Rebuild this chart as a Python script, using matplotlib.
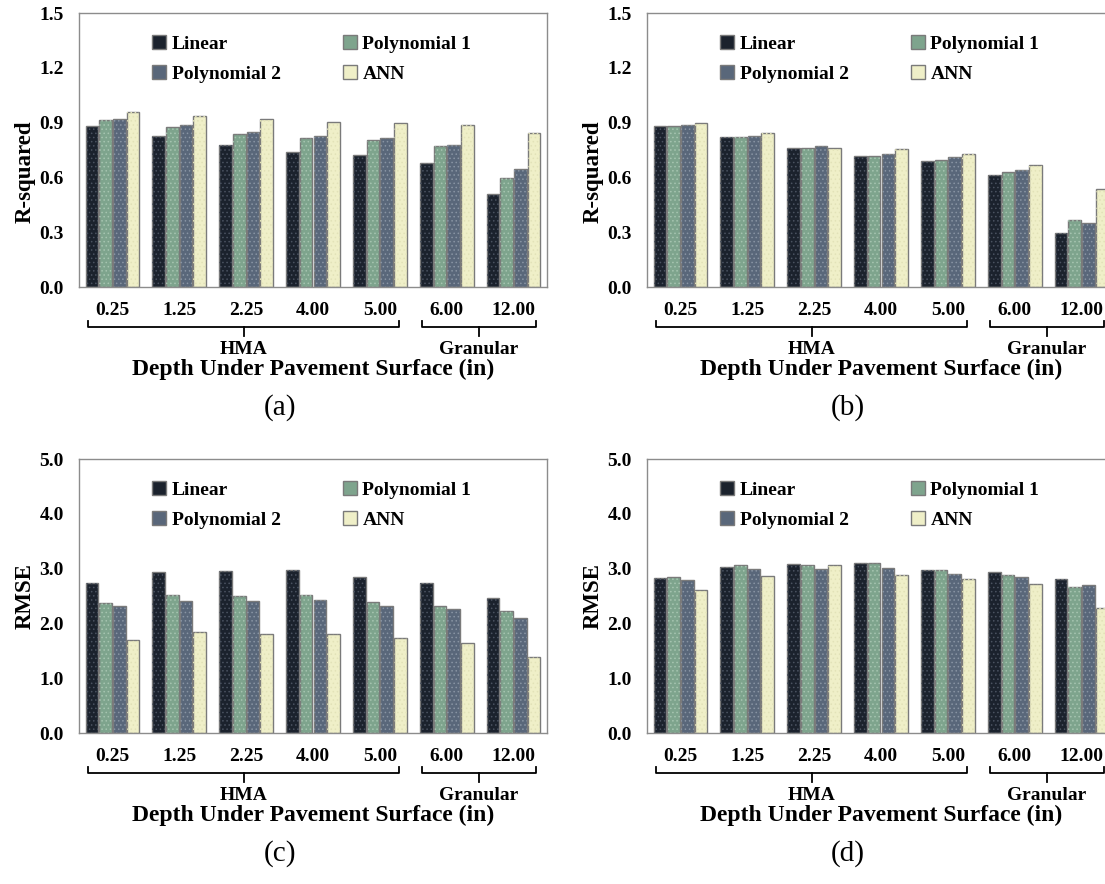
import numpy as np
import matplotlib
matplotlib.use("Agg")
import matplotlib.pyplot as plt
from matplotlib.patches import Patch
from matplotlib import transforms

plt.rcParams["font.family"] = ["Liberation Serif", "DejaVu Serif"]
plt.rcParams["hatch.linewidth"] = 0.6

depths = ["0.25", "1.25", "2.25", "4.00", "5.00", "6.00", "12.00"]
series = ["Linear", "Polynomial 1", "Polynomial 2", "ANN"]

# (a) R-squared
r2_a_linear = [0.884, 0.829, 0.775, 0.740, 0.725, 0.680, 0.507]
r2_a_poly1 = [0.913, 0.876, 0.840, 0.818, 0.807, 0.771, 0.595]
r2_a_poly2 = [0.920, 0.885, 0.849, 0.829, 0.818, 0.778, 0.645]
r2_a_ann = [0.956, 0.935, 0.918, 0.905, 0.898, 0.885, 0.842]

# (b) R-squared
r2_b_linear = [0.881, 0.823, 0.761, 0.715, 0.691, 0.614, 0.298]
r2_b_poly1 = [0.879, 0.821, 0.761, 0.717, 0.695, 0.627, 0.367]
r2_b_poly2 = [0.885, 0.828, 0.772, 0.728, 0.711, 0.640, 0.350]
r2_b_ann = [0.898, 0.843, 0.761, 0.756, 0.726, 0.667, 0.534]

# (c) RMSE
rmse_c_linear = [2.73, 2.93, 2.95, 2.98, 2.84, 2.73, 2.46]
rmse_c_poly1 = [2.37, 2.51, 2.50, 2.51, 2.39, 2.32, 2.23]
rmse_c_poly2 = [2.31, 2.40, 2.40, 2.43, 2.32, 2.27, 2.09]
rmse_c_ann = [1.69, 1.84, 1.80, 1.81, 1.73, 1.65, 1.39]

# (d) RMSE
rmse_d_linear = [2.82, 3.03, 3.08, 3.10, 2.98, 2.93, 2.81]
rmse_d_poly1 = [2.85, 3.06, 3.07, 3.11, 2.97, 2.88, 2.66]
rmse_d_poly2 = [2.79, 2.99, 2.99, 3.02, 2.90, 2.84, 2.70]
rmse_d_ann = [2.61, 2.87, 3.07, 2.88, 2.81, 2.72, 2.28]

fills = ["#1b222d", "#7ea48d", "#59677a", "#efefc8"]
dots = ["#4a5260", "#a6c4b0", "#8894a3", "#e2e2b8"]
edge = "#7a7a7a"

W, H = 1105, 884
fig = plt.figure(figsize=(W / 100, H / 100), dpi=100)


def panel(left_px, top_px, data, ylabel, ymax, ystep, tag, ylabel_y=0.5):
    ax = fig.add_axes([left_px / W, (H - top_px - 274) / H, 468 / W, 274 / H])
    x = np.arange(len(depths))
    slot, bw = 0.205, 0.19
    for i, vals in enumerate(data):
        pos = x + (i - 1.5) * slot
        ax.bar(pos, vals, bw, color=fills[i], edgecolor=edge, linewidth=1.0, zorder=2)
        # fine dotted texture on top of the fill
        ax.bar(pos, vals, bw, color="none", edgecolor=dots[i], linewidth=0, hatch="....", zorder=3)
    ax.set_xlim(-0.5, len(depths) - 0.5)
    ax.set_ylim(0, ymax)
    yt = np.arange(0, ymax + 1e-9, ystep)
    ax.set_yticks(yt)
    ax.set_yticklabels([f"{v:.1f}" for v in yt], fontsize=14, fontweight="bold")
    ax.set_xticks(x)
    ax.set_xticklabels(depths, fontsize=14, fontweight="bold")
    ax.tick_params(axis="both", length=0)
    ax.tick_params(axis="y", pad=11)
    ax.tick_params(axis="x", pad=11)
    for s in ax.spines.values():
        s.set_color("#8c8c8c")
        s.set_linewidth(1.0)
    ax.set_ylabel(ylabel, fontsize=16.5, fontweight="bold")
    ax.yaxis.set_label_coords(-0.092, ylabel_y)

    handles = [Patch(facecolor=fills[i], edgecolor=edge, label=series[i]) for i in [0, 2, 1, 3]]
    ax.legend(handles=handles, ncol=2, loc="upper left", bbox_to_anchor=(0.14, 0.948),
              frameon=False, prop={"size": 14, "weight": "bold"}, handlelength=0.7,
              handleheight=0.7, handletextpad=0.3, columnspacing=3.2, labelspacing=0.65,
              borderaxespad=0)

    # group brackets below the axis
    tr = transforms.blended_transform_factory(ax.transData, ax.transAxes)
    yb, ye, yc = -0.146, -0.124, -0.18
    for x0, x1, name in [(-0.36, 4.29, "HMA"), (4.63, 6.33, "Granular")]:
        xm = (x0 + x1) / 2
        ax.plot([x0, x0, x1, x1], [ye, yb, yb, ye], color="black", lw=1.3,
                transform=tr, clip_on=False)
        ax.plot([xm, xm], [yb, yc], color="black", lw=1.3, transform=tr, clip_on=False)
        ax.text(xm, -0.228, name, transform=tr, ha="center", va="center",
                fontsize=14, fontweight="bold")
    ax.text(0.5, -0.30, "Depth Under Pavement Surface (in)", transform=ax.transAxes,
            ha="center", va="center", fontsize=17, fontweight="bold")
    ax.text(0.43, -0.44, tag, transform=ax.transAxes, ha="center", va="center", fontsize=21)
    return ax


panel(79, 13, [r2_a_linear, r2_a_poly1, r2_a_poly2, r2_a_ann], "R-squared", 1.5, 0.3, "(a)", 0.42)
panel(647, 13, [r2_b_linear, r2_b_poly1, r2_b_poly2, r2_b_ann], "R-squared", 1.5, 0.3, "(b)", 0.42)
panel(79, 459, [rmse_c_linear, rmse_c_poly1, rmse_c_poly2, rmse_c_ann], "RMSE", 5.0, 1.0, "(c)")
panel(647, 459, [rmse_d_linear, rmse_d_poly1, rmse_d_poly2, rmse_d_ann], "RMSE", 5.0, 1.0, "(d)")

fig.savefig("out.png", dpi=100)
